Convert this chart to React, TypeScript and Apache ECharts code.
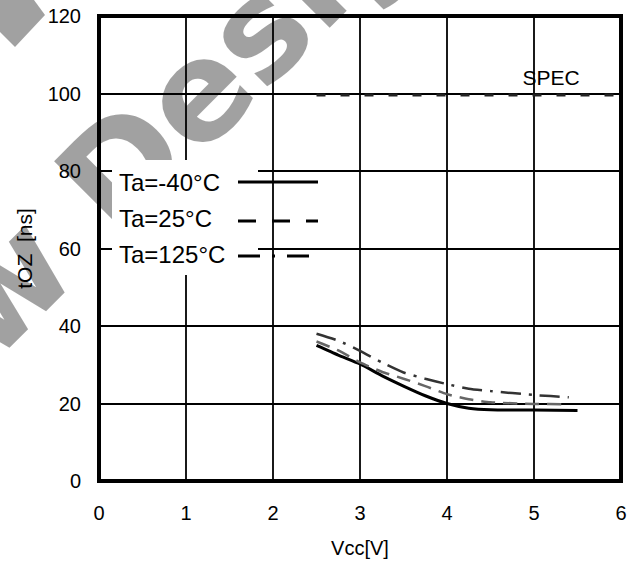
import React, { useEffect, useRef } from "react";
import * as echarts from "echarts";

// Vcc [V] / tOZ [ns] values
const vccM40 = [2.5, 2.75, 3.0, 3.25, 3.5, 3.75, 4.0, 4.25, 4.5, 5.0, 5.5];
const tozM40 = [35, 32.5, 30.2, 27.2, 24.5, 22, 20, 18.8, 18.4, 18.3, 18.2];
const vcc25 = [2.5, 2.75, 3.0, 3.25, 3.5, 3.75, 4.0, 4.25, 4.5, 5.0, 5.35];
const toz25 = [36, 33.7, 30.6, 28.2, 26.4, 24.5, 22.4, 21.1, 20.3, 19.9, 19.8];
const vcc125 = [2.5, 2.75, 3.0, 3.25, 3.5, 3.75, 4.0, 4.25, 4.5, 5.0, 5.4];
const toz125 = [38, 36.2, 33.6, 30.6, 28, 26.4, 25, 23.8, 23.2, 22.2, 21.6];
const specVcc = [2.5, 6];
const specToz = [99.6, 99.6];

const legendLabels = ["Ta=-40°C", "Ta=25°C", "Ta=125°C"];
const specLabel = "SPEC";
const xName = "Vcc[V]";
const yName = "tOZ  [ns]";

const pairs = (xs: number[], ys: number[]) => xs.map((x, i) => [x, ys[i]]);

export default function App() {
  const ref = useRef<HTMLDivElement>(null);
  useEffect(() => {
    const chart = echarts.init(ref.current!, null, { renderer: "svg" });
    const font = "Liberation Sans";
    const wm = "rgba(0,0,0,0.37)";
    const wmText = (text: string, x: number, align: string) => ({
      type: "text",
      x,
      y: -48,
      style: {
        text,
        fill: wm,
        fontSize: 138,
        fontWeight: "bold",
        fontFamily: "DejaVu Sans",
        align,
        textAlign: align,
        verticalAlign: "middle",
        textVerticalAlign: "middle",
      },
    });
    const legendText = (text: string, y: number) => ({
      type: "text",
      x: 119,
      y,
      z: 11,
      style: {
        text,
        fill: "#000",
        fontSize: 24,
        fontFamily: font,
        align: "left",
        textAlign: "left",
        verticalAlign: "middle",
        textVerticalAlign: "middle",
      },
    });
    const legendLine = (y: number, x2: number, dash: number[] | null) => ({
      type: "line",
      z: 11,
      shape: { x1: 238, y1: y, x2, y2: y },
      style: { stroke: "#000", lineWidth: 3, lineDash: dash || undefined },
    });

    chart.setOption({
      animation: false,
      backgroundColor: "#fff",
      grid: {
        left: 99,
        right: 10,
        top: 16,
        bottom: 84,
        show: true,
        borderColor: "#000",
        borderWidth: 4,
        backgroundColor: "transparent",
      },
      xAxis: {
        type: "value",
        min: 0,
        max: 6,
        interval: 1,
        axisLine: { show: false },
        axisTick: { show: false },
        splitLine: { show: true, lineStyle: { color: "#000", width: 1.8 } },
        axisLabel: { fontSize: 20, color: "#000", fontFamily: font, margin: 22 },
        name: xName,
        nameLocation: "middle",
        nameGap: 57,
        nameTextStyle: { fontSize: 20, color: "#000", fontFamily: font },
      },
      yAxis: {
        type: "value",
        min: 0,
        max: 120,
        interval: 20,
        axisLine: { show: false },
        axisTick: { show: false },
        splitLine: { show: true, lineStyle: { color: "#000", width: 1.8 } },
        axisLabel: { fontSize: 20, color: "#000", fontFamily: font, margin: 18 },
        name: yName,
        nameLocation: "middle",
        nameGap: 64,
        nameRotate: 90,
        nameTextStyle: { fontSize: 21, color: "#000", fontFamily: font },
      },
      series: [
        {
          name: legendLabels[0],
          type: "line",
          data: pairs(vccM40, tozM40),
          showSymbol: false,
          smooth: 0.2,
          lineStyle: { color: "#000", width: 3 },
        },
        {
          name: legendLabels[1],
          type: "line",
          data: pairs(vcc25, toz25),
          showSymbol: false,
          smooth: 0.2,
          lineStyle: { color: "#666", width: 2.5, type: [14, 8] },
        },
        {
          name: legendLabels[2],
          type: "line",
          data: pairs(vcc125, toz125),
          showSymbol: false,
          smooth: 0.2,
          lineStyle: { color: "#333", width: 2.5, type: [20, 8, 3, 8] },
        },
        {
          name: specLabel,
          type: "line",
          data: pairs(specVcc, specToz),
          showSymbol: false,
          lineStyle: { color: "#222", width: 3, type: [9, 15] },
        },
      ],
      graphic: [
        {
          type: "rect",
          z: 10,
          shape: { x: 112, y: 160, width: 146, height: 115 },
          style: { fill: "#fff" },
        },
        legendText(legendLabels[0], 182),
        legendText(legendLabels[1], 218),
        legendText(legendLabels[2], 254),
        legendLine(182, 318, null),
        legendLine(221, 318, [18, 16]),
        legendLine(256, 310, [22, 12, 3, 12]),
        {
          type: "text",
          x: 551,
          y: 77,
          z: 11,
          style: {
            text: specLabel,
            fill: "#000",
            fontSize: 21,
            fontFamily: font,
            align: "center",
            textAlign: "center",
            verticalAlign: "middle",
            textVerticalAlign: "middle",
          },
        },
        {
          type: "group",
          x: 125,
          y: 233,
          rotation: Math.PI / 4,
          z: 100,
          silent: true,
          children: [wmText("New", -60, "right"), wmText("Design", -12, "left")],
        },
        {
          type: "polygon",
          z: 100,
          silent: true,
          shape: { points: [[0, 0], [34, 0], [45, 15], [15, 47], [0, 32]] },
          style: { fill: wm },
        },
      ],
    });
    return () => chart.dispose();
  }, []);
  return (
    <div
      ref={ref}
      style={{ position: "fixed", left: 0, top: 0, width: 631, height: 565, background: "#fff" }}
    />
  );
}
